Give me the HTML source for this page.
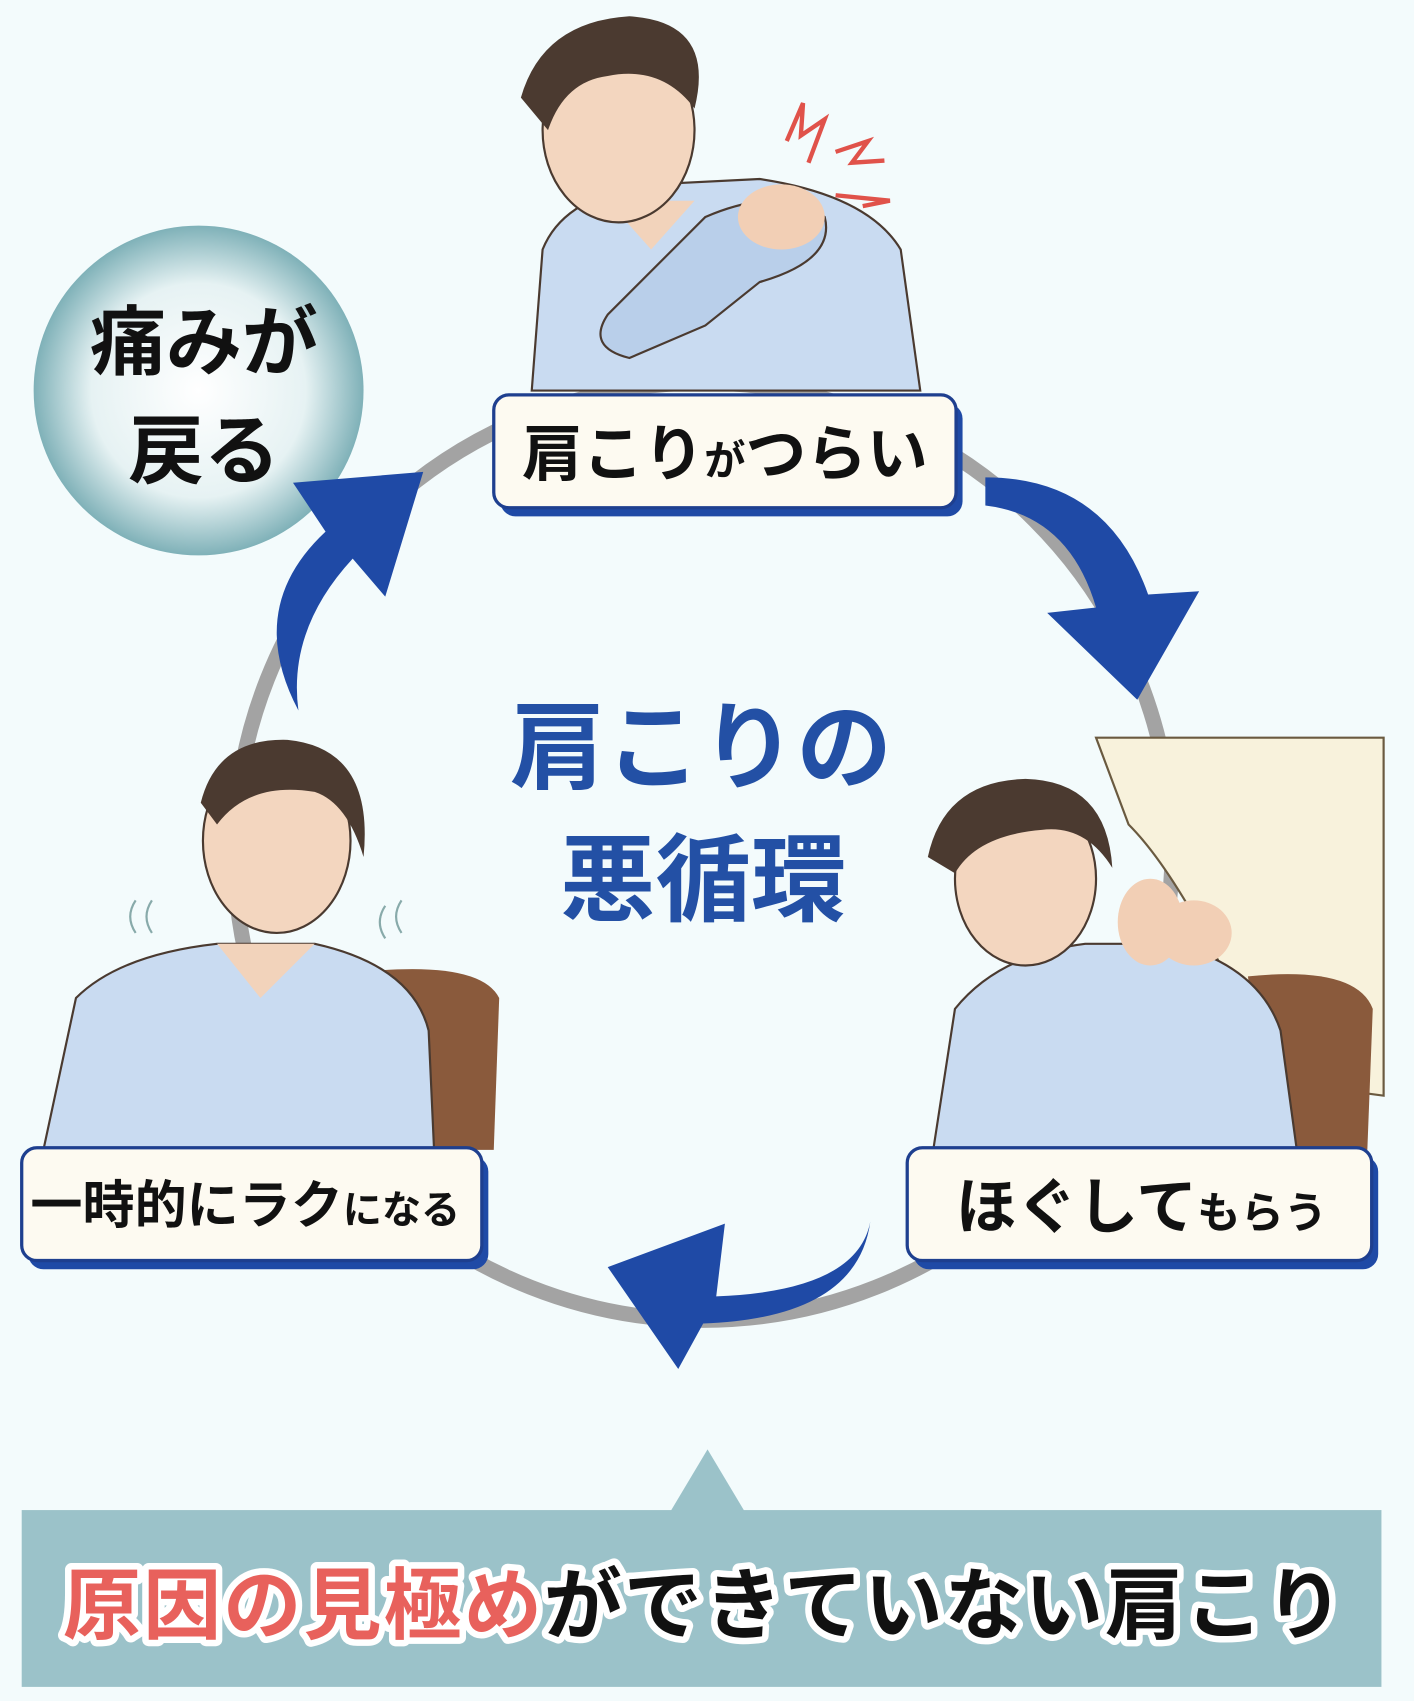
<!DOCTYPE html>
<html><head><meta charset="utf-8"><style>
html,body{margin:0;padding:0;background:#f3fbfc;}
svg{display:block;}
text{font-family:"Liberation Sans","Noto Sans CJK JP",sans-serif;font-weight:bold;}
</style></head><body>
<svg width="1414" height="1701" viewBox="0 0 1303 1568" preserveAspectRatio="none" xmlns="http://www.w3.org/2000/svg">
<defs>
<radialGradient id="bub" cx="50%" cy="50%" r="50%">
<stop offset="0%" stop-color="#ffffff"/><stop offset="65%" stop-color="#e6f2f3"/><stop offset="100%" stop-color="#7fb1b8"/>
</radialGradient>
</defs>
<rect width="1303" height="1568" fill="#f3fbfc"/>
<circle cx="648" cy="785" r="432" fill="none" stroke="#a3a3a3" stroke-width="14"/>
<circle cx="183" cy="360" r="152" fill="url(#bub)"/>
<text x="188" y="340" font-size="70" text-anchor="middle" fill="#111">痛みが</text>
<text x="188" y="440" font-size="70" text-anchor="middle" fill="#111">戻る</text>

<g>
<path d="M490 360 L500 230 Q520 180 600 170 L700 165 Q800 180 830 230 L848 360 Z" fill="#c9dbf1" stroke="#4a3a30" stroke-width="2"/>
<path d="M560 185 L600 230 L640 185 Z" fill="#f2d3bb"/>
<ellipse cx="570" cy="120" rx="70" ry="85" fill="#f3d6bf" stroke="#4a3a30" stroke-width="2"/>
<path d="M480 90 Q500 20 580 15 Q660 20 640 100 Q610 60 560 70 Q520 75 505 120 Z" fill="#4b3a30"/>
<path d="M650 200 Q720 170 760 200 Q770 240 700 260 L650 300 L580 330 Q540 320 560 290 Z" fill="#b9cfea" stroke="#4a3a30" stroke-width="2"/>
<ellipse cx="720" cy="200" rx="40" ry="30" fill="#f2cfb5"/>
<path d="M725 130 L740 95 L738 125 L760 110 L745 150" fill="none" stroke="#e0524a" stroke-width="4"/>
<path d="M770 140 L800 130 L785 150 L815 148" fill="none" stroke="#e0524a" stroke-width="4"/>
<path d="M770 180 L820 185 L795 190" fill="none" stroke="#e0524a" stroke-width="4"/>
</g>

<g>
<path d="M300 900 Q440 880 460 920 L455 1060 L350 1060 Z" fill="#8a5a3c"/>
<path d="M40 1060 L70 920 Q110 880 200 870 L290 870 Q380 890 395 950 L400 1060 Z" fill="#c9dbf1" stroke="#4a3a30" stroke-width="2"/>
<path d="M200 870 L240 920 L290 870 Z" fill="#f2d3bb"/>
<ellipse cx="255" cy="775" rx="68" ry="85" fill="#f3d6bf" stroke="#4a3a30" stroke-width="2"/>
<path d="M185 740 Q200 680 265 682 Q345 690 335 790 Q320 740 290 730 Q230 720 200 760 Z" fill="#4b3a30"/>
<path d="M125 830 Q115 845 125 860 M140 830 Q130 845 140 860 M355 835 Q345 850 355 865 M370 830 Q360 845 370 860" fill="none" stroke="#8aa" stroke-width="2"/>
</g>

<g>
<path d="M1010 680 L1275 680 L1275 1010 L1200 1000 L1130 900 Q1080 800 1040 760 Z" fill="#f8f2dc" stroke="#6a5a40" stroke-width="2"/>
<path d="M1150 900 Q1250 890 1265 930 L1260 1060 L1170 1060 Z" fill="#8a5a3c"/>
<path d="M860 1060 L880 930 Q920 880 1000 870 L1080 870 Q1160 890 1180 950 L1195 1060 Z" fill="#c9dbf1" stroke="#4a3a30" stroke-width="2"/>
<ellipse cx="945" cy="810" rx="65" ry="80" fill="#f3d6bf" stroke="#4a3a30" stroke-width="2"/>
<path d="M855 790 Q870 720 945 718 Q1020 720 1025 800 Q1000 760 960 765 Q900 770 880 805 Z" fill="#4b3a30"/>
<ellipse cx="1060" cy="850" rx="30" ry="40" fill="#f2cfb5"/>
<ellipse cx="1100" cy="860" rx="35" ry="30" fill="#f2cfb5"/>
</g>

<g fill="#1f4aa6">
<path d="M908 440 Q1020 440 1058 548 L1105 545 L1048 645 L965 565 L1010 560 Q985 475 908 466 Z"/>
<path d="M802 1126 Q790 1190 660 1195 L668 1128 L560 1168 L625 1262 L648 1220 Q790 1215 802 1126 Z"/>
<path d="M275 655 Q225 560 300 490 L270 445 L390 435 L355 550 L325 515 Q265 580 275 655 Z"/>
</g>

<g>
<rect x="461" y="372" width="426" height="104" rx="14" fill="#1f4aa6"/>
<rect x="455" y="364" width="426" height="104" rx="14" fill="#fdfaf1" stroke="#1e3f8f" stroke-width="3"/>
<text x="668" y="438" text-anchor="middle" fill="#111"><tspan font-size="56">肩こり</tspan><tspan font-size="38">が</tspan><tspan font-size="56">つらい</tspan></text>

<rect x="26" y="1066" width="424" height="104" rx="14" fill="#1f4aa6"/>
<rect x="20" y="1058" width="424" height="104" rx="14" fill="#fdfaf1" stroke="#1e3f8f" stroke-width="3"/>
<text x="226" y="1128" text-anchor="middle" fill="#111"><tspan font-size="48">一時的にラク</tspan><tspan font-size="36">になる</tspan></text>

<rect x="842" y="1066" width="428" height="104" rx="14" fill="#1f4aa6"/>
<rect x="836" y="1058" width="428" height="104" rx="14" fill="#fdfaf1" stroke="#1e3f8f" stroke-width="3"/>
<text x="1052" y="1132" text-anchor="middle" fill="#111"><tspan font-size="56">ほぐして</tspan><tspan font-size="40">もらう</tspan></text>
</g>

<text x="646" y="720" font-size="88" text-anchor="middle" fill="#2350a5">肩こりの</text>
<text x="648" y="842" font-size="88" text-anchor="middle" fill="#2350a5">悪循環</text>

<polygon points="618,1393 652,1336 686,1393" fill="#9bc2c9"/>
<rect x="20" y="1392" width="1253" height="163" fill="#9bc2c9"/>
<text x="58" y="1505" font-size="72" textLength="1180" stroke="#ffffff" stroke-width="12" stroke-linejoin="round" paint-order="stroke" fill="#111"><tspan fill="#e8615c">原因の見極め</tspan>ができていない肩こり</text>
</svg>
</body></html>
